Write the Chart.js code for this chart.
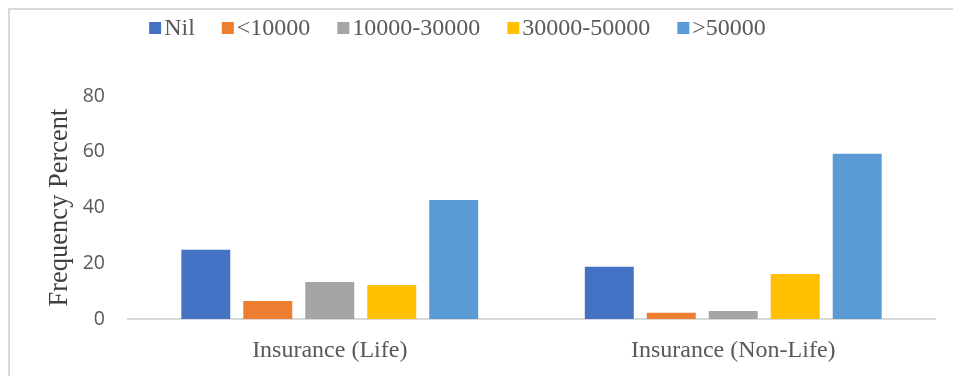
<!DOCTYPE html>
<html>
<head>
<meta charset="utf-8">
<script src="https://cdn.jsdelivr.net/npm/chart.js@4/dist/chart.umd.min.js"></script>
<style>
  html, body { margin: 0; padding: 0; background: #fff; }
  #wrap { position: relative; width: 953px; height: 376px; }
</style>
</head>
<body>
<div id="wrap"><canvas id="c" width="953" height="376"></canvas></div>
<script>
// Insurance premium bands, frequency percent by insurance type
const categories = ['Insurance (Life)', 'Insurance (Non-Life)'];
const bandLabels = ['Nil', '<10000', '10000-30000', '30000-50000', '>50000'];
const nilValues = [24.8, 18.7];
const under10kValues = [6.5, 2.2];
const from10to30kValues = [13.3, 2.9];
const from30to50kValues = [12.2, 16.1];
const over50kValues = [42.7, 59.3];
const bandColors = ['#4472C4', '#ED7D31', '#A5A5A5', '#FFC000', '#5B9BD5'];
const yTicks = [0, 20, 40, 60, 80];

const seriesValues = [nilValues, under10kValues, from10to30kValues, from30to50kValues, over50kValues];

const TEXT = '#595959';
const SERIF = '"Liberation Serif", "Times New Roman", serif';
const SANS = '"Open Sans", "Liberation Sans", sans-serif';

// Frame lines along the top and left edges of the figure
const framePlugin = {
  id: 'frame',
  beforeDraw(chart) {
    const ctx = chart.ctx;
    ctx.save();
    ctx.strokeStyle = '#D9D9D9';
    ctx.lineWidth = 2;
    ctx.beginPath();
    ctx.moveTo(9, chart.height);
    ctx.lineTo(9, 9);
    ctx.lineTo(chart.width, 9);
    ctx.stroke();
    ctx.restore();
  }
};

// Compact legend row: square swatch, tight gap, label
const legendRowPlugin = {
  id: 'legendRow',
  afterDraw(chart) {
    const ctx = chart.ctx;
    const box = 12, gapText = 3, gapItem = 27, centerX = 457.5, baseY = 35;
    ctx.save();
    ctx.font = '24px ' + SERIF;
    const items = chart.data.datasets.map(ds => ({
      label: ds.label, color: ds.backgroundColor, w: ctx.measureText(ds.label).width
    }));
    const total = items.reduce((s, it) => s + box + gapText + it.w, 0) + gapItem * (items.length - 1);
    let x = centerX - total / 2;
    ctx.textBaseline = 'alphabetic';
    ctx.textAlign = 'left';
    items.forEach(it => {
      ctx.fillStyle = it.color;
      ctx.fillRect(x, baseY - 13, box, box);
      x += box + gapText;
      ctx.fillStyle = TEXT;
      ctx.fillText(it.label, x, baseY);
      x += it.w + gapItem;
    });
    ctx.restore();
  }
};

new Chart(document.getElementById('c'), {
  type: 'bar',
  data: {
    labels: categories,
    datasets: bandLabels.map((label, i) => ({
      label: label,
      data: seriesValues[i],
      backgroundColor: bandColors[i],
      borderWidth: 0,
      barPercentage: 0.79,
      categoryPercentage: 0.768
    }))
  },
  options: {
    responsive: false,
    animation: false,
    layout: { padding: { top: 96, right: 18, left: 0, bottom: 0 } },
    plugins: {
      legend: { display: false },
      tooltip: { enabled: false }
    },
    scales: {
      x: {
        grid: { display: false, drawTicks: false },
        border: { display: true, color: '#D9D9D9', width: 2 },
        ticks: { color: TEXT, font: { family: SERIF, size: 24 }, padding: 17, maxRotation: 0 },
        afterFit(scale) { scale.height = 57; }
      },
      y: {
        min: 0,
        max: 80,
        afterBuildTicks(scale) { scale.ticks = yTicks.map(v => ({ value: v })); },
        grid: { display: false, drawTicks: false },
        border: { display: false },
        ticks: { color: TEXT, font: { family: SANS, size: 19.5 }, padding: 23 },
        title: {
          display: true,
          text: 'Frequency Percent',
          color: '#404040',
          font: { family: SERIF, size: 26.5 },
          padding: { top: 44, bottom: 0 }
        },
        afterFit(scale) { scale.width = 128; }
      }
    }
  },
  plugins: [framePlugin, legendRowPlugin]
});
</script>
</body>
</html>
